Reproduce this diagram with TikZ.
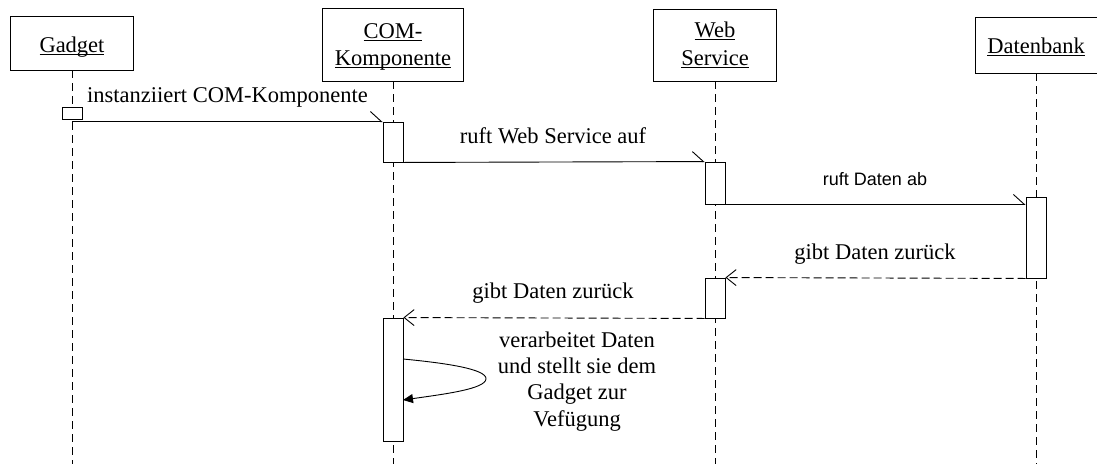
\documentclass[tikz,border=0pt]{standalone}
\usepackage{fontspec}
\setmainfont{Liberation Serif}
\newfontfamily\labelsans{Liberation Sans}
\usetikzlibrary{arrows.meta}
% underline at a fixed depth below the baseline
\newcommand\ulword[1]{\setbox0\hbox{#1}\rlap{\vrule height -2pt depth 3pt width \wd0}\box0}
\begin{document}
\begin{tikzpicture}[x=1pt,y=-1pt,
  objbox/.style={draw, rectangle, inner sep=0pt, line width=0.9pt},
  lifeline/.style={line width=0.9pt, dash pattern=on 8pt off 5pt},
  act/.style={draw, fill=white, rectangle, inner sep=0pt, line width=0.9pt, minimum width=20pt},
  call/.style={line width=0.9pt, -{Straight Barb[harpoon, length=11pt, width=20pt, line width=0.9pt]}},
  ret/.style={line width=0.9pt, dash pattern=on 8pt off 4pt, -{Straight Barb[length=10pt, width=16pt, line width=0.9pt]}},
  selfcall/.style={line width=0.9pt, -{Triangle[length=10pt, width=9pt]}},
  lbl/.style={font=\fontsize{22.5}{26.5}\selectfont, inner sep=0pt, anchor=base},
  sanslbl/.style={font=\labelsans\fontsize{18}{22}\selectfont, inner sep=0pt, anchor=base}]
\useasboundingbox (0,0) rectangle (1097,464);
\coordinate (bottom) at (0,464);

% object boxes
\node[objbox, minimum width=123pt, minimum height=54pt] (gad) at (72,43) {};
\node[objbox, minimum width=141pt, minimum height=73pt] (com) at (393,44.5) {};
\node[objbox, minimum width=123pt, minimum height=72pt] (web) at (715,45) {};
\node[objbox, minimum width=122pt, minimum height=56pt] (db) at (1036,45) {};

\node[lbl] (tgad) at (72,52) {\ulword{Gadget}};
\node[lbl] (tcom1) at (393,38) {\ulword{COM-}};
\node[lbl] (tcom2) at (393,65) {\ulword{Komponente}};
\node[lbl] (tweb1) at (715,37) {\ulword{Web}};
\node[lbl] (tweb2) at (715,65) {\ulword{Service}};
\node[lbl] (tdb) at (1036,53) {\ulword{Datenbank}};

% lifelines
\draw[lifeline] (gad.south) -- (gad.south |- bottom);
\draw[lifeline] (com.south) -- (com.south |- bottom);
\draw[lifeline] (web.south) -- (web.south |- bottom);
\draw[lifeline] (db.south) -- (db.south |- bottom);

% activations
\node[act, minimum height=12pt] (ga) at (72,113) {};
\node[act, minimum height=40pt] (a1) at (393,142) {};
\node[act, minimum height=42pt] (a2) at (715,183) {};
\node[act, minimum height=81pt] (a3) at (1036,237.5) {};
\node[act, minimum height=40pt] (a4) at (715,298) {};
\node[act, minimum height=123pt] (a5) at (393,379.5) {};

% messages
\draw[call] (ga.south |- a1.north west) -- (a1.north west);
\draw[call] (a1.south east) -- (a2.north west);
\draw[call] (a2.south east) -- (a2.south east -| a3.west);
\draw[ret] (a3.south west) -- (a4.north east);
\draw[ret] (a4.south west) -- (a5.north east);
\coordinate (s1) at (403,359);
\coordinate (s2) at (403,400);
\draw[selfcall] (s1) .. controls (445,363) and (487,369) .. (486,379)
                     .. controls (485,389) and (445,394) .. (s2);

% message labels
\node[lbl] (m1) at (227.5,102) {instanziiert COM-Komponente};
\node[lbl] (m2) at (553,143) {ruft Web Service auf};
\node[sanslbl] (m3) at (875,185) {ruft Daten ab};
\node[lbl] (m4) at (875,259) {gibt Daten zurück};
\node[lbl] (m5) at (553,298) {gibt Daten zurück};
\node[lbl] (m6) at (577,347) {verarbeitet Daten};
\node[lbl] (m7) at (577,373) {und stellt sie dem};
\node[lbl] (m8) at (577,399) {Gadget zur};
\node[lbl] (m9) at (577,426) {Vefügung};
\end{tikzpicture}
\end{document}
